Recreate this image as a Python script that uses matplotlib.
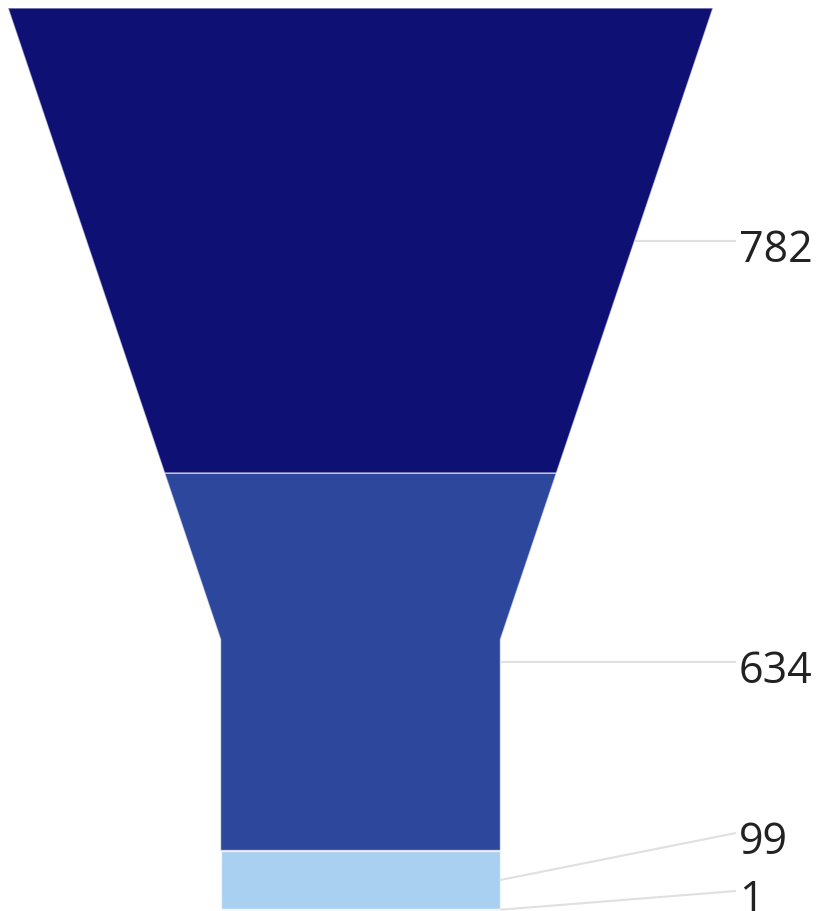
import matplotlib.pyplot as plt
from matplotlib.patches import Polygon

# funnel data (top to bottom)
values = [782, 634, 99, 1]
labels = ['782', '634', '99', '1']
colors = ['#0e1073', '#2c479b', '#a9d0f0', '#d4e8f7']

plt.rcParams['font.family'] = ['Open Sans', 'DejaVu Sans']

W, H = 816, 911
fig = plt.figure(figsize=(W / 100, H / 100), dpi=100)
ax = fig.add_axes([0, 0, 1, 1])
ax.set_xlim(0, W)
ax.set_ylim(H, 0)
ax.axis('off')

# layout in pixels
left, top_w = 8, 705
y_top, y_bot = 8, 910
neck_w = 0.397 * top_w
neck_y = y_bot - 0.3 * (y_bot - y_top)
cx = left + top_w / 2


def width_at(y):
    if y >= neck_y:
        return neck_w
    return top_w - (top_w - neck_w) * (y - y_top) / (neck_y - y_top)


total = sum(values)
scale = (y_bot - y_top) / total

y = y_top
mids = []
for v, c in zip(values, colors):
    y2 = y + v * scale
    ys = [y] + ([neck_y] if y < neck_y < y2 else []) + [y2]
    right = [(cx + width_at(t) / 2, t) for t in ys]
    lft = [(cx - width_at(t) / 2, t) for t in reversed(ys)]
    ax.add_patch(Polygon(right + lft, closed=True, facecolor=c,
                         edgecolor=(1, 1, 1, 0.6), lw=1))
    mids.append((y + y2) / 2)
    y = y2

# label positions, pushed up from the bottom to avoid overlap
label_x = 736
gap = 58
label_y = [0] * len(values)
limit = 891
for i in range(len(values) - 1, -1, -1):
    label_y[i] = min(mids[i], limit)
    limit = label_y[i] - gap

for m, ly, lab in zip(mids, label_y, labels):
    x0 = cx + width_at(m) / 2
    ax.plot([x0, label_x], [m, ly], color='#e0e0e0', lw=1.5, solid_capstyle='butt')
    ax.text(label_x + 3, ly + 21.5, lab, fontsize=31, color='#222222',
            ha='left', va='baseline')

fig.savefig('out.png', dpi=100)
